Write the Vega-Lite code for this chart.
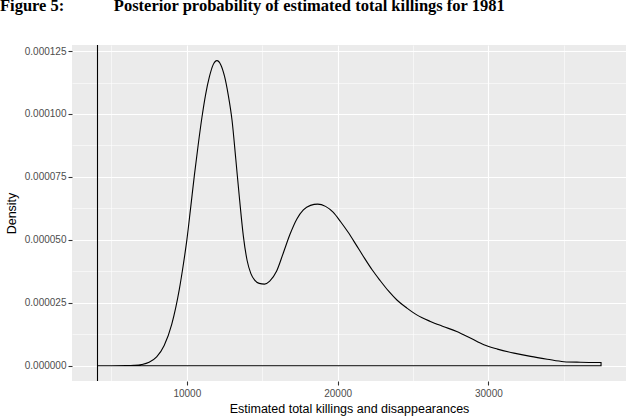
{
  "$schema": "https://vega.github.io/schema/vega-lite/v6.json",
  "width": 554,
  "height": 336,
  "autosize": {"type": "none"},
  "padding": {"left": 72, "top": 45, "right": 2, "bottom": 37},
  "background": "white",
  "config": {
    "view": {"fill": "#EBEBEB", "stroke": null},
    "font": "Liberation Sans",
    "axis": {
      "domain": false,
      "gridColor": "white",
      "tickColor": "#333333",
      "tickWidth": 1.1,
      "tickSize": 4,
      "labelFont": "Liberation Sans",
      "labelFontSize": 10,
      "labelColor": "#4D4D4D",
      "titleFont": "Liberation Sans",
      "titleFontSize": 12.5,
      "titleFontWeight": "normal",
      "titleColor": "black"
    }
  },
  "title": {
    "text": "Figure 5:\u00a0\u00a0\u00a0\u00a0\u00a0\u00a0\u00a0\u00a0\u00a0\u00a0\u00a0\u00a0Posterior probability of estimated total killings for 1981",
    "font": "Liberation Serif",
    "fontSize": 16.5,
    "fontWeight": "bold",
    "color": "black",
    "anchor": "start",
    "frame": "group",
    "dx": -72,
    "baseline": "alphabetic",
    "offset": 17
  },
  "encoding": {
    "x": {
      "field": "x",
      "type": "quantitative",
      "scale": {"domain": [2387, 39125], "nice": false, "zero": false},
      "axis": {
        "title": "Estimated total killings and disappearances",
        "values": [5000, 10000, 15000, 20000, 25000, 30000, 35000],
        "labelExpr": "datum.value % 10000 === 0 ? format(datum.value, 'd') : ''",
        "gridWidth": {"condition": {"test": "datum.value % 10000 !== 0", "value": 0.55}, "value": 1.1},
        "tickOpacity": {"condition": {"test": "datum.value % 10000 !== 0", "value": 0}, "value": 1},
        "labelPadding": 3.5,
        "titlePadding": 4
      }
    }
  },
  "layer": [
    {
      "data": {
        "values": [
          {"x": 4078, "density": 0},
          {"x": 5000, "density": 0.00000001},
          {"x": 6000, "density": 0.00000005},
          {"x": 6500, "density": 0.00000015},
          {"x": 7000, "density": 0.00000047},
          {"x": 7500, "density": 0.00000135},
          {"x": 8000, "density": 0.0000035},
          {"x": 8500, "density": 0.000008},
          {"x": 9000, "density": 0.0000164},
          {"x": 9500, "density": 0.0000302},
          {"x": 9750, "density": 0.0000394},
          {"x": 10000, "density": 0.0000498},
          {"x": 10250, "density": 0.0000625},
          {"x": 10500, "density": 0.0000755},
          {"x": 10750, "density": 0.0000875},
          {"x": 11000, "density": 0.0000985},
          {"x": 11250, "density": 0.0001078},
          {"x": 11500, "density": 0.0001148},
          {"x": 11750, "density": 0.0001196},
          {"x": 12000, "density": 0.0001212},
          {"x": 12250, "density": 0.0001196},
          {"x": 12500, "density": 0.000115},
          {"x": 12750, "density": 0.0001075},
          {"x": 13000, "density": 0.0000975},
          {"x": 13250, "density": 0.000082},
          {"x": 13500, "density": 0.000066},
          {"x": 13750, "density": 0.0000515},
          {"x": 14000, "density": 0.0000418},
          {"x": 14250, "density": 0.0000366},
          {"x": 14500, "density": 0.000034},
          {"x": 14800, "density": 0.0000327},
          {"x": 15150, "density": 0.0000324},
          {"x": 15500, "density": 0.0000336},
          {"x": 15950, "density": 0.0000375},
          {"x": 16400, "density": 0.0000448},
          {"x": 16850, "density": 0.0000523},
          {"x": 17300, "density": 0.0000583},
          {"x": 17730, "density": 0.0000619},
          {"x": 18200, "density": 0.0000637},
          {"x": 18680, "density": 0.0000642},
          {"x": 19200, "density": 0.0000633},
          {"x": 19700, "density": 0.000061},
          {"x": 20200, "density": 0.0000572},
          {"x": 20700, "density": 0.000053},
          {"x": 21200, "density": 0.0000483},
          {"x": 21700, "density": 0.0000435},
          {"x": 22300, "density": 0.000038},
          {"x": 22800, "density": 0.000034},
          {"x": 23400, "density": 0.0000295},
          {"x": 23950, "density": 0.000026},
          {"x": 24600, "density": 0.0000229},
          {"x": 25250, "density": 0.0000202},
          {"x": 26150, "density": 0.0000176},
          {"x": 27000, "density": 0.0000156},
          {"x": 27900, "density": 0.0000136},
          {"x": 28800, "density": 0.000011},
          {"x": 29700, "density": 0.0000083},
          {"x": 30600, "density": 0.0000066},
          {"x": 31700, "density": 0.000005},
          {"x": 32800, "density": 0.0000037},
          {"x": 33900, "density": 0.0000026},
          {"x": 35000, "density": 0.0000016},
          {"x": 36100, "density": 0.0000014},
          {"x": 37470, "density": 0.0000013}
        ]
      },
      "mark": {"type": "area", "fill": "transparent", "stroke": "black", "strokeWidth": 1.1, "interpolate": "monotone"},
      "encoding": {
        "y": {
          "field": "density",
          "type": "quantitative",
          "stack": null,
          "scale": {"domain": [-0.00000607, 0.0001274], "nice": false, "zero": false},
          "axis": {
            "title": "Density",
            "values": [0, 0.0000125, 0.000025, 0.0000375, 0.00005, 0.0000625, 0.000075, 0.0000875, 0.0001, 0.0001125, 0.000125],
            "labelExpr": "round(datum.value * 10000000) % 250 === 0 ? format(datum.value, '.6f') : ''",
            "gridWidth": {"condition": {"test": "round(datum.value * 10000000) % 250 !== 0", "value": 0.55}, "value": 1.1},
            "tickOpacity": {"condition": {"test": "round(datum.value * 10000000) % 250 !== 0", "value": 0}, "value": 1},
            "labelPadding": 2,
            "titlePadding": 6
          },
          "y2": {"datum": 0}
        }
      }
    },
    {
      "data": {"values": [{"x": 4078}]},
      "mark": {"type": "rule", "color": "black", "strokeWidth": 1.1}
    }
  ]
}
